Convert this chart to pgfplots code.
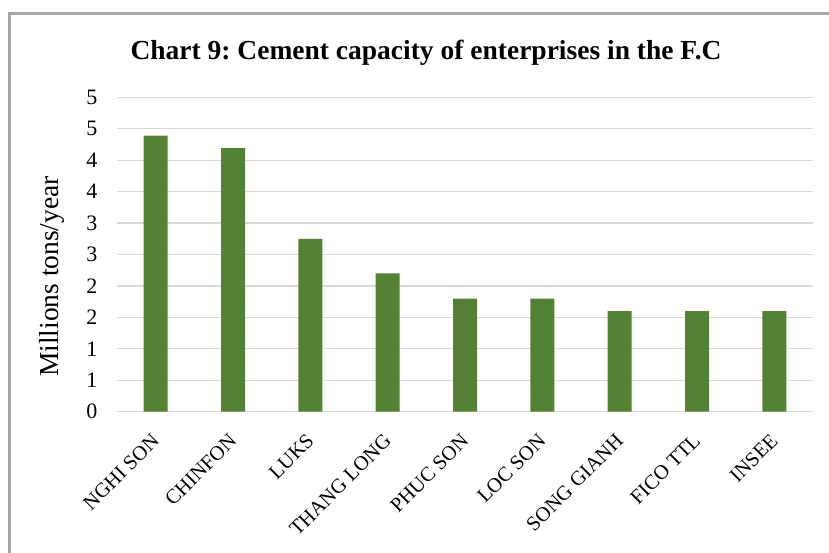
\documentclass[border=0pt]{standalone}
\usepackage{pgfplots}
\pgfplotsset{compat=1.18}
\usepackage{fontspec}
\setmainfont{Liberation Serif}
\frenchspacing
\definecolor{bargreen}{HTML}{548235}
\definecolor{gridgray}{HTML}{D9D9D9}
\definecolor{framegray}{HTML}{A6A6A6}
\begin{document}
\begin{tikzpicture}[x=1bp,y=1bp]
\useasboundingbox (0,0) rectangle (829,553);
\draw[framegray, line width=2.2bp] (9.5,-10) -- (9.5,539.5) -- (845,539.5);
\node[anchor=base, inner sep=0pt, font=\fontsize{27.5bp}{31bp}\selectfont\bfseries] at (426,493.7) {Chart 9: Cement capacity of enterprises in the F.C};
\begin{axis}[
  at={(117bp,141.3bp)}, anchor=south west, scale only axis,
  width=696bp, height=314.4bp,
  ymin=0, ymax=5, ytick={0,0.5,...,5.01},
  yticklabels={0,1,1,2,2,3,3,4,4,5,5},
  xmin=-0.5, xmax=8.5, xtick={0,...,8},
  xticklabels={NGHI SON,CHINFON,LUKS,THANG LONG,PHUC SON,LOC SON,SONG GIANH,FICO TTL,INSEE},
  ymajorgrids, grid style={gridgray, line width=1.3bp},
  axis line style={draw=none}, major tick length=0pt,
  yticklabel style={font=\fontsize{22bp}{26bp}\selectfont, anchor=east, xshift=-16bp},
  xticklabel style={font=\fontsize{20.5bp}{24bp}\selectfont, xshift=-5bp, yshift=-16bp, rotate=45, anchor=north east},
  ylabel={Millions tons/year},
  every axis y label/.style={at={(axis description cs:-0.0934,0.43)}, rotate=90, anchor=center, font=\fontsize{27.5bp}{31bp}\selectfont},
  ybar, bar width=24bp,
]
\addplot[fill=bargreen, draw=none] coordinates {
(0,4.39) (1,4.19) (2,2.75) (3,2.2) (4,1.8) (5,1.8) (6,1.6) (7,1.6) (8,1.6)};
\end{axis}
\end{tikzpicture}
\end{document}
